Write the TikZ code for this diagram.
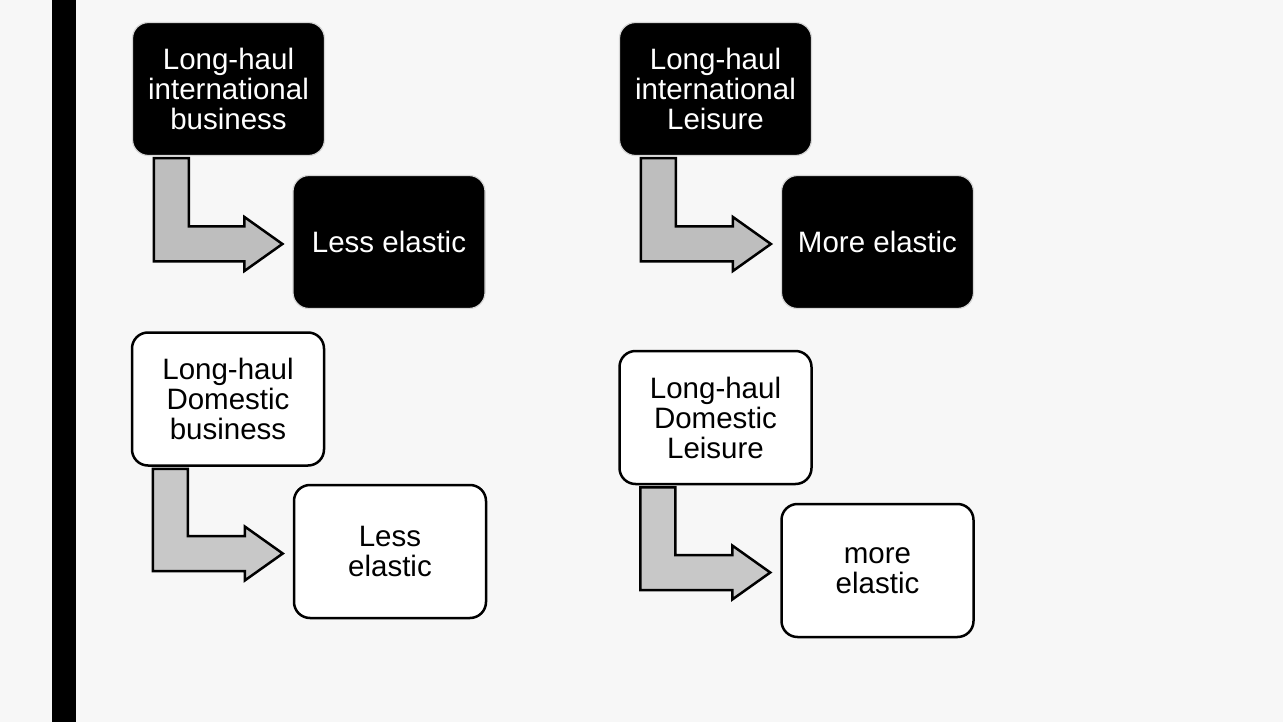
\documentclass[tikz,border=0pt]{standalone}
\usepackage{fontspec}
\setmainfont{Liberation Sans}
\usetikzlibrary{calc}
\definecolor{bg}{HTML}{F7F7F7}
\definecolor{arrfillA}{HTML}{BEBEBE}
\definecolor{arrfillB}{HTML}{C8C8C8}
\definecolor{rimgray}{HTML}{D6D6D6}
\tikzset{
  box/.style={rectangle, rounded corners=16pt, minimum width=192pt, minimum height=133pt,
    inner sep=0pt, align=center, font=\fontsize{29.5}{30}\selectfont},
  darkbox/.style={box, fill=black, draw=rimgray, line width=1.2pt, text=white},
  lightbox/.style={box, fill=white, draw=black, line width=2.5pt, text=black},
  bentarr/.style={draw=black, line width=2.5pt, line join=miter, miter limit=10},
}
\newcommand{\bentarrow}[3]{%
  \draw[bentarr, fill=#3] ($(#1.south west)+(22,2)$)
    -- ($(#1.south west)+(57,2)$)
    |- ($(#2.west)+(-48,-15.5)$)
    -- ($(#2.west)+(-48,-25)$)
    -- ($(#2.west)+(-10,2)$)
    -- ($(#2.west)+(-48,29)$)
    -- ($(#2.west)+(-48,19.5)$)
    -| ($(#1.south west)+(22,2)$) -- cycle;}
\begin{document}
\begin{tikzpicture}[x=1pt,y=-1pt]
  \useasboundingbox (0,0) rectangle (1283,722);
  \fill[bg] (0,0) rectangle (1283,722);
  \fill[black] (52,0) rectangle (76,722);

  \node[darkbox] (a1) at (228.5,89) {Long-haul\\international\\business};
  \node[darkbox] (b1) at (389,242) {Less elastic};
  \node[darkbox] (a2) at (715.5,89) {Long-haul\\international\\Leisure};
  \node[darkbox] (b2) at (877.5,242) {More elastic};

  \node[lightbox] (a3) at (228,399) {Long-haul\\Domestic\\business};
  \node[lightbox] (b3) at (390,551.5) {Less\\elastic};
  \node[lightbox] (a4) at (715.5,417.5) {Long-haul\\Domestic\\Leisure};
  \node[lightbox] (b4) at (877.5,570.5) {more\\elastic};

  \bentarrow{a1}{b1}{arrfillA}
  \bentarrow{a2}{b2}{arrfillA}
  \bentarrow{a3}{b3}{arrfillB}
  \bentarrow{a4}{b4}{arrfillB}
\end{tikzpicture}
\end{document}
